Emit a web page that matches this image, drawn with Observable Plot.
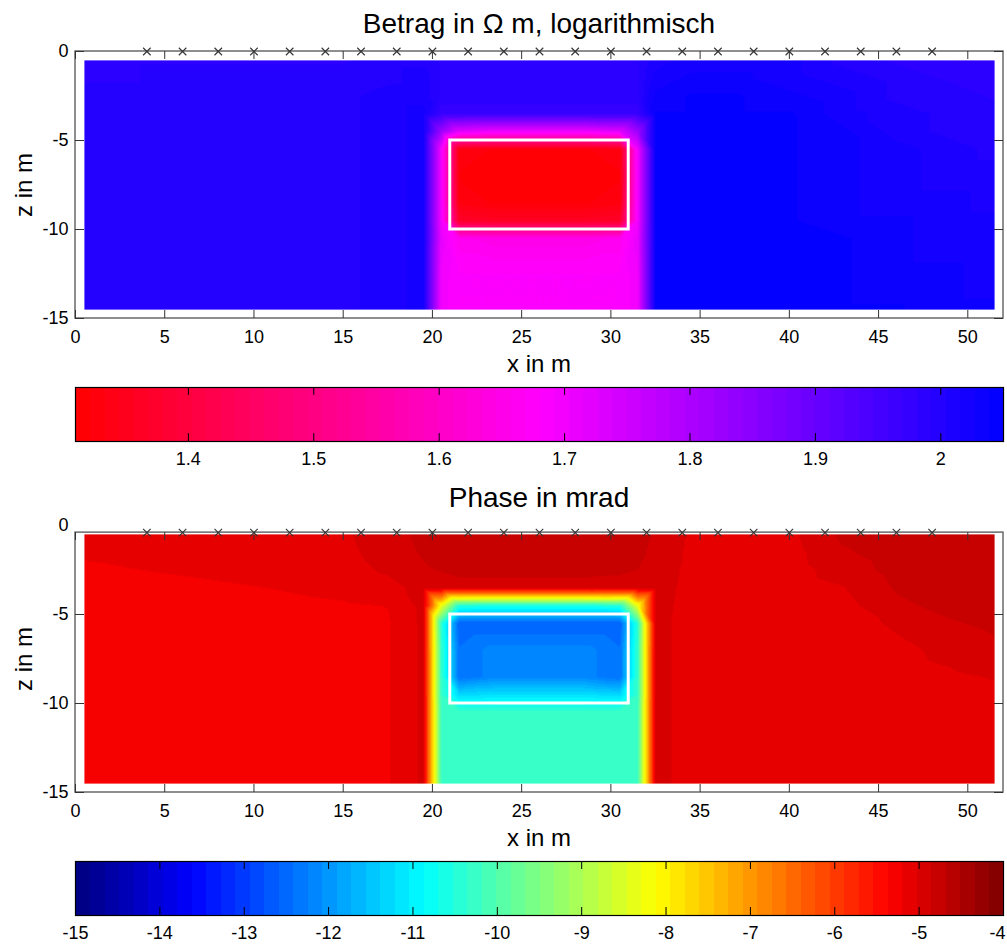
<!DOCTYPE html>
<html>
<head>
<meta charset="utf-8">
<script src="https://cdn.jsdelivr.net/npm/d3@7"></script>
<script src="https://cdn.jsdelivr.net/npm/@observablehq/plot@0.6"></script>
<style>
  html, body { margin: 0; padding: 0; background: #fff; }
  #root { position: relative; width: 1007px; height: 947px; overflow: hidden; background: #fff;
          font-family: "Liberation Sans", Arial, Helvetica, sans-serif; color: #000; }
  #root svg { position: absolute; left: 0; }
  .txt { position: absolute; white-space: nowrap; text-align: center; line-height: 1; }
</style>
</head>
<body>
<div id="root"></div>
<script>
// ---------------- data ----------------
const xLimits = [0, 52];
const zLimits = [-15, 0];
const xTicks = [0, 5, 10, 15, 20, 25, 30, 35, 40, 45, 50];
const zTicks = [0, -5, -10, -15];
const electrodes = [4, 6, 8, 10, 12, 14, 16, 18, 20, 22, 24, 26, 28, 30, 32, 34, 36, 38, 40, 42, 44, 46, 48];
const blockX = [21, 31];
const blockZ = [-10, -5];

// model grid nodes (m)
const xNodes = [0.5, 3, 6, 9, 12, 15, 17.5, 19.5, 20.5, 21.5, 23.5, 26, 28.5, 30.5, 31.5, 32.5, 34.5, 37, 40, 43, 46, 49, 51.5];
const zNodes = [-0.5, -1.5, -2.5, -3.5, -4.5, -5.5, -7, -8.5, -9.5, -10.5, -12.5, -14.5];

// log10 resistivity (Betrag), rows = zNodes, cols = xNodes
const betrag = [
  [1.99,1.99,1.99,1.99,1.99,1.99,2.00,2.00,1.99,1.99,1.99,1.99,1.99,1.99,1.99,2.01,2.02,2.02,2.02,2.00,1.99,1.98,1.98],
  [1.99,1.99,2.00,2.00,2.00,2.00,2.00,2.01,1.99,1.99,1.99,1.99,1.99,1.99,1.99,2.02,2.03,2.03,2.02,2.01,2.00,1.99,1.99],
  [2.00,2.00,2.00,2.00,2.00,2.00,2.01,2.01,1.99,1.99,1.99,1.99,1.99,1.99,1.99,2.03,2.04,2.04,2.03,2.02,2.00,2.00,1.99],
  [2.00,2.00,2.00,2.00,2.00,2.00,2.01,2.02,1.97,1.97,1.97,1.97,1.97,1.97,1.97,2.04,2.04,2.04,2.04,2.02,2.01,2.00,2.00],
  [2.00,2.00,2.00,2.00,2.00,2.00,2.01,2.02,1.82,1.72,1.70,1.70,1.70,1.72,1.82,2.04,2.04,2.04,2.04,2.03,2.01,2.00,2.00],
  [2.00,2.00,2.00,2.00,2.00,2.00,2.01,2.02,1.70,1.33,1.32,1.32,1.32,1.33,1.70,2.04,2.04,2.04,2.04,2.03,2.02,2.01,2.00],
  [2.00,2.00,2.00,2.00,2.00,2.00,2.01,2.02,1.70,1.32,1.31,1.31,1.31,1.32,1.70,2.04,2.04,2.04,2.04,2.03,2.02,2.01,2.01],
  [2.00,2.00,2.00,2.00,2.00,2.00,2.01,2.02,1.70,1.33,1.32,1.32,1.32,1.33,1.70,2.04,2.04,2.04,2.04,2.03,2.02,2.02,2.01],
  [2.00,2.00,2.00,2.00,2.00,2.00,2.01,2.02,1.70,1.37,1.36,1.36,1.36,1.37,1.70,2.04,2.04,2.04,2.04,2.03,2.03,2.02,2.02],
  [2.00,2.00,2.00,2.00,2.00,2.00,2.01,2.02,1.71,1.66,1.65,1.65,1.65,1.66,1.71,2.04,2.04,2.04,2.04,2.04,2.03,2.02,2.02],
  [2.00,2.00,2.00,2.00,2.00,2.00,2.01,2.02,1.70,1.68,1.68,1.68,1.68,1.68,1.70,2.04,2.04,2.04,2.04,2.04,2.03,2.03,2.02],
  [2.00,2.00,2.00,2.00,2.00,2.00,2.01,2.02,1.70,1.68,1.68,1.68,1.68,1.68,1.70,2.04,2.04,2.04,2.04,2.04,2.04,2.03,2.03]
];

// phase in mrad, rows = zNodes, cols = xNodes
const phase = [
  [-5.12,-5.11,-5.10,-5.09,-5.08,-5.06,-4.92,-4.82,-4.78,-4.78,-4.78,-4.78,-4.78,-4.78,-4.80,-4.88,-5.06,-5.10,-5.08,-4.82,-4.76,-4.75,-4.75],
  [-5.17,-5.15,-5.13,-5.12,-5.10,-5.08,-4.95,-4.84,-4.80,-4.79,-4.79,-4.79,-4.79,-4.79,-4.82,-4.90,-5.07,-5.11,-5.10,-4.88,-4.78,-4.76,-4.75],
  [-5.24,-5.21,-5.18,-5.15,-5.13,-5.11,-5.00,-4.88,-4.85,-4.83,-4.83,-4.83,-4.83,-4.84,-4.86,-4.93,-5.08,-5.12,-5.11,-4.95,-4.80,-4.77,-4.76],
  [-5.28,-5.27,-5.25,-5.22,-5.19,-5.16,-5.10,-4.96,-4.93,-4.90,-4.90,-4.90,-4.90,-4.91,-4.93,-4.95,-5.09,-5.13,-5.12,-5.04,-4.84,-4.78,-4.77],
  [-5.30,-5.29,-5.28,-5.26,-5.24,-5.22,-5.20,-4.98,-8.30,-10.5,-10.6,-10.6,-10.6,-10.5,-8.30,-4.96,-5.10,-5.14,-5.13,-5.09,-4.90,-4.80,-4.78],
  [-5.30,-5.30,-5.29,-5.28,-5.27,-5.24,-5.22,-4.99,-10.4,-12.6,-12.6,-12.6,-12.6,-12.6,-10.4,-4.97,-5.11,-5.14,-5.14,-5.12,-5.00,-4.88,-4.82],
  [-5.30,-5.30,-5.29,-5.28,-5.27,-5.24,-5.22,-4.99,-10.3,-12.4,-12.17,-12.17,-12.17,-12.4,-10.3,-4.97,-5.11,-5.14,-5.14,-5.13,-5.08,-4.98,-4.90],
  [-5.30,-5.30,-5.29,-5.28,-5.27,-5.24,-5.22,-4.99,-10.3,-12.4,-12.17,-12.17,-12.17,-12.4,-10.3,-4.97,-5.11,-5.14,-5.14,-5.13,-5.11,-5.06,-5.02],
  [-5.30,-5.30,-5.29,-5.28,-5.27,-5.24,-5.22,-4.99,-10.3,-11.3,-11.2,-11.2,-11.2,-11.3,-10.3,-4.97,-5.11,-5.14,-5.14,-5.13,-5.12,-5.10,-5.08],
  [-5.30,-5.30,-5.29,-5.28,-5.27,-5.24,-5.22,-4.99,-10.2,-10.25,-10.25,-10.25,-10.25,-10.25,-10.2,-4.97,-5.11,-5.14,-5.14,-5.13,-5.12,-5.11,-5.10],
  [-5.30,-5.30,-5.29,-5.28,-5.27,-5.24,-5.22,-4.99,-10.2,-10.25,-10.25,-10.25,-10.25,-10.25,-10.2,-4.97,-5.11,-5.14,-5.14,-5.13,-5.12,-5.12,-5.11],
  [-5.30,-5.30,-5.29,-5.28,-5.27,-5.24,-5.22,-4.99,-10.2,-10.25,-10.25,-10.25,-10.25,-10.25,-10.2,-4.97,-5.11,-5.14,-5.14,-5.13,-5.12,-5.12,-5.11]
];

const betragRange = [1.31, 2.05];
const betragTicks = [1.4, 1.5, 1.6, 1.7, 1.8, 1.9, 2];
const phaseRange = [-15, -4];
const phaseTicks = [-15, -14, -13, -12, -11, -10, -9, -8, -7, -6, -5, -4];

// ---------------- colormaps (64-level, MATLAB style) ----------------
const clamp01 = v => Math.max(0, Math.min(1, v));
const to255 = v => Math.round(255 * clamp01(v));
function redMagentaBlue(t) {
  const r = t < 0.5 ? 1 : 2 - 2 * t;
  const b = t < 0.5 ? 2 * t : 1;
  return `rgb(${to255(r)},0,${to255(b)})`;
}
function jet(t) {
  return `rgb(${to255(1.5 - Math.abs(4 * t - 3))},${to255(1.5 - Math.abs(4 * t - 2))},${to255(1.5 - Math.abs(4 * t - 1))})`;
}
const quant = f => t => f((Math.min(63, Math.max(0, Math.floor(t * 64))) + 0.5) / 64);

// ---------------- layout ----------------
const FONT = '"Liberation Sans", Arial, Helvetica, sans-serif';
const W = 1007, ML = 75, MR = 4, MT = 51, MB = 32, PH = 350;
const FH = PH - MT - MB, FW = W - ML - MR;
const TICK = 8;
const CBH = 100, CBT = 7, CBB = 39, BH = CBH - CBT - CBB;
const root = document.getElementById("root");

function panel(values, colorFn, domain, topZ) {
  const pts = zNodes.flatMap((z, i) => xNodes.map((x, j) => ({x, z, v: values[i][j]})));
  const fh = (topZ - zLimits[0]) * FH / (zLimits[1] - zLimits[0]);
  const zt = zTicks.filter(z => z <= topZ);
  return Plot.plot({
    width: W, height: PH, marginLeft: ML, marginRight: MR, marginTop: MT, marginBottom: MB,
    style: {fontFamily: FONT, fontSize: "18px", color: "black", background: "transparent"},
    x: {domain: xLimits, ticks: xTicks, tickSize: 0, tickPadding: 12, tickFormat: d => String(d), label: null},
    y: {domain: zLimits, ticks: zTicks, tickSize: 0, tickPadding: 7, tickFormat: d => String(d), label: null},
    color: {type: "linear", domain, interpolate: quant(colorFn)},
    marks: [
      Plot.raster(pts, {
        x: "x", y: "z", fill: "v", interpolate: "barycentric",
        x1: xNodes[0], x2: xNodes[xNodes.length - 1],
        y1: zNodes[0], y2: zNodes[zNodes.length - 1]
      }),
      Plot.rect([0], {x1: blockX[0], x2: blockX[1], y1: blockZ[0], y2: blockZ[1],
        fill: "none", stroke: "white", strokeWidth: 3}),
      Plot.rect([0], {x1: xLimits[0], x2: xLimits[1], y1: zLimits[0], y2: topZ,
        fill: "none", stroke: "#6a6a6a", strokeWidth: 1.5}),
      Plot.ruleX(xTicks, {x: d => d, y1: topZ, y2: zLimits[0], insetTop: fh - TICK, stroke: "#333"}),
      Plot.ruleX(xTicks, {x: d => d, y1: topZ, y2: zLimits[0], insetBottom: fh - TICK, stroke: "#333"}),
      Plot.ruleY(zt, {y: d => d, x1: xLimits[0], x2: xLimits[1], insetRight: FW - TICK - 1, stroke: "#333"}),
      Plot.ruleY(zt, {y: d => d, x1: xLimits[0], x2: xLimits[1], insetLeft: FW - TICK - 1, stroke: "#333"}),
      Plot.dot(electrodes, {x: d => d, y: topZ, symbol: "times", r: 3.5, stroke: "#333", strokeWidth: 1.1})
    ]
  });
}

function colorbar(colorFn, domain, ticks) {
  const atEnd = ticks[ticks.length - 1] === domain[1];
  const inner = atEnd ? ticks.slice(0, -1) : ticks;
  const edge = atEnd ? ticks.slice(-1) : [];
  return Plot.plot({
    width: W, height: CBH, marginLeft: ML, marginRight: MR, marginTop: CBT, marginBottom: CBB,
    style: {fontFamily: FONT, fontSize: "18px", color: "black", background: "transparent"},
    x: {domain, ticks: inner, tickSize: 0, tickPadding: 11, tickFormat: d => String(d), label: null},
    y: {domain: [0, 1], axis: null},
    color: {type: "linear", domain, interpolate: quant(colorFn)},
    marks: [
      Plot.raster({fill: (x, y) => x, x1: domain[0], x2: domain[1], y1: 0, y2: 1,
        width: 64, height: 1, imageRendering: "pixelated"}),
      Plot.frame({stroke: "black", strokeWidth: 1.2}),
      Plot.ruleX(ticks, {x: d => d, insetTop: BH - TICK, stroke: "black"}),
      Plot.ruleX(ticks, {x: d => d, insetBottom: BH - TICK, stroke: "black"}),
      Plot.text(edge, {x: d => d, text: d => String(d), frameAnchor: "bottom", lineAnchor: "top",
        dy: 11, textAnchor: "end", dx: 2, fontSize: 18, fill: "black"})
    ]
  });
}

function place(el, top) { el.style.top = top + "px"; root.appendChild(el); }
function text(str, size, baseline, cx, rotate) {
  const d = document.createElement("div");
  d.className = "txt";
  d.textContent = str;
  d.style.fontSize = size + "px";
  d.style.width = "600px";
  d.style.height = size + "px";
  d.style.left = (cx - 300) + "px";
  if (rotate) {
    d.style.top = (baseline - size / 2) + "px";
    d.style.transform = "rotate(-90deg)";
    d.style.transformOrigin = "50% 50%";
  } else {
    d.style.top = (baseline - 0.8465 * size) + "px";
  }
  root.appendChild(d);
}

const OFF = 474;
const cx = ML + FW / 2;

place(panel(betrag, redMagentaBlue, betragRange, 0), 0);
place(colorbar(redMagentaBlue, betragRange, betragTicks), 380);
place(panel(phase, jet, phaseRange, -0.4), OFF);
place(colorbar(jet, phaseRange, phaseTicks), 380 + OFF);

text("Betrag in \u03A9 m, logarithmisch", 28, 34, cx);
text("x in m", 24, 372, cx);
text("z in m", 24, 184.5, 23.7, true);
text("Phase in mrad", 28, 34 + OFF, cx);
text("x in m", 24, 372 + OFF, cx);
text("z in m", 24, 184.5 + OFF, 23.7, true);
</script>
</body>
</html>
